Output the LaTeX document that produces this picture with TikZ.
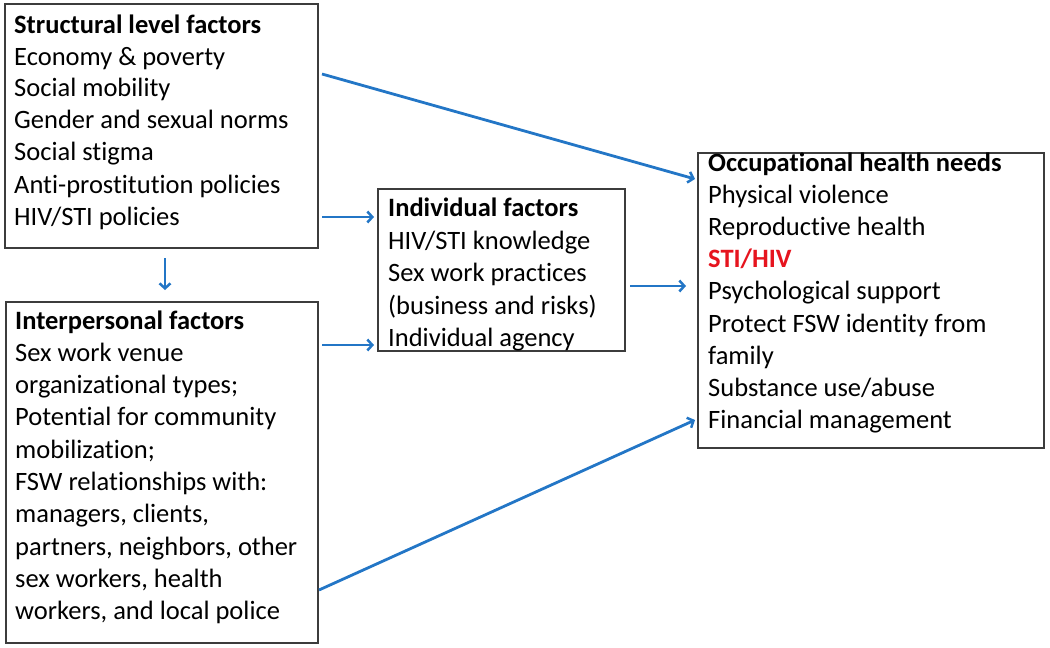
\documentclass[tikz,border=0pt]{standalone}
\usepackage{fontspec}
\setmainfont{Carlito}[Ligatures={NoCommon,NoRare},Contextuals={NoAlternate}]
\newcommand{\nl}{\kern0pt }
\usetikzlibrary{arrows.meta}
\definecolor{arrowblue}{RGB}{35,118,198}
\definecolor{boxgray}{RGB}{60,60,60}
\definecolor{stired}{RGB}{230,20,30}
\begin{document}
\begin{tikzpicture}[x=1pt,y=-1pt,
  box/.style={draw=boxgray,line width=1.5pt,fill=white,inner sep=0pt,anchor=north west},
  txt/.style={anchor=base west,inner sep=0pt,font=\fontsize{26.5}{32}\selectfont},
  ttl/.style={anchor=base west,inner sep=0pt,font=\fontsize{26.5}{32}\selectfont\bfseries},
  conn/.style={draw=arrowblue,line width=2.8pt,-{Straight Barb[length=5pt,width=11pt,line width=2.5pt]}}]
\useasboundingbox (0,0) rectangle (1050,648);

% boxes
\node[box,minimum width=313pt,minimum height=244pt] (struct) at (4,3) {};
\node[box,minimum width=312pt,minimum height=341pt] (inter) at (5,301) {};
\node[box,minimum width=247pt,minimum height=162pt] (indiv) at (377,188) {};
\node[box,minimum width=346pt,minimum height=295pt] (occ) at (697,152) {};

% structural text
\node[ttl] (s0) at (14,33) {Structural level factors};
\node[txt] (s1) at (14,65) {Economy \& poverty};
\node[txt] (s2) at (14,96) {Social mobility};
\node[txt] (s3) at (14,128) {Gender and sexual norms};
\node[txt] (s4) at (14,160) {Social stigma};
\node[txt] (s5) at (14,193) {Ant\nl i-prost\nl it\nl ut\nl ion policies};
\node[txt] (s6) at (14,225) {HIV/STI policies};

% interpersonal text
\node[ttl] (p0) at (15,329) {Interpersonal factors};
\node[txt] (p1) at (15,361.3) {Sex work venue};
\node[txt] (p2) at (15,393.6) {organizat\nl ional types;};
\node[txt] (p3) at (15,425.9) {Potent\nl ial for community};
\node[txt] (p4) at (15,458.2) {mobilizat\nl ion;};
\node[txt] (p5) at (15,490.5) {FSW relat\nl ionships with:};
\node[txt] (p6) at (15,522.8) {managers, clients,};
\node[txt] (p7) at (15,555.1) {partners, neighbors, other};
\node[txt] (p8) at (15,587.4) {sex workers, health};
\node[txt] (p9) at (15,619.7) {workers, and local police};

% individual text
\node[ttl] (i0) at (388,216) {Individual factors};
\node[txt] (i1) at (388,249) {HIV/STI knowledge};
\node[txt] (i2) at (388,281.5) {Sex work practices};
\node[txt] (i3) at (388,314) {(business and risks)};
\node[txt] (i4) at (388,346.5) {Individual agency};

% occupational text
\node[ttl] (o0) at (708,171) {Occupat\nl ional health needs};
\node[txt] (o1) at (708,203.2) {Physical violence};
\node[txt] (o2) at (708,235.4) {Reproductive health};
\node[ttl,text=stired] (o3) at (708,267.6) {STI/HIV};
\node[txt] (o4) at (708,299.8) {Psychological support};
\node[txt] (o5) at (708,332) {Protect FSW ident\nl ity from};
\node[txt] (o6) at (708,364.2) {family};
\node[txt] (o7) at (708,396.4) {Substance use/abuse};
\node[txt] (o8) at (708,428.6) {Financial management};

% connector end points
\coordinate (a1s) at (322,74);
\coordinate (a1e) at (695,179);
\coordinate (a2s) at (322,217);
\coordinate (a2e) at (374,217);
\coordinate (a3s) at (165,258);
\coordinate (a3e) at (165,290);
\coordinate (a4s) at (322,345);
\coordinate (a4e) at (374,345);
\coordinate (a5s) at (630,286);
\coordinate (a5e) at (686,286);
\coordinate (a6s) at (319,590);
\coordinate (a6e) at (695,420);

\draw[conn] (a1s) -- (a1e);
\draw[conn] (a2s) -- (a2e);
\draw[conn] (a3s) -- (a3e);
\draw[conn] (a4s) -- (a4e);
\draw[conn] (a5s) -- (a5e);
\draw[conn] (a6s) -- (a6e);
\end{tikzpicture}
\end{document}
